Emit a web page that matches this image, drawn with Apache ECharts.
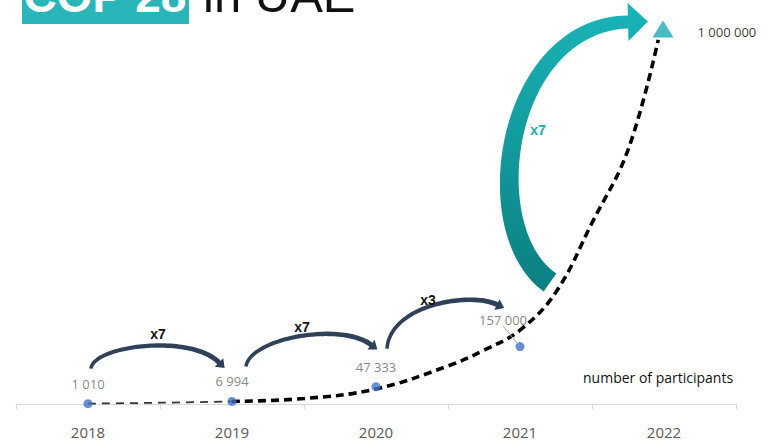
<!DOCTYPE html>
<html><head><meta charset="utf-8">
<script src="https://cdn.jsdelivr.net/npm/echarts@6/dist/echarts.min.js"></script>
<style>html,body{margin:0;padding:0;background:#fff}#c{width:773px;height:440px}</style>
</head><body><div id="c"></div>
<script>
// ---- data ----
const years = ['2018', '2019', '2020', '2021', '2022'];
const participants = [1010, 6994, 47333, 157000];
const target2022 = 1000000;
// dashed growth curve: [position in years from 2018, participants]
const trendEarly = [[0, 1010], [0.5, 3500], [1, 7000]];
const trendLate = [[1, 7000], [1.5, 15000], [2, 41000], [2.5, 104000], [2.75, 147000], [3, 202000],
  [3.25, 306000], [3.5, 495000], [3.75, 694000], [3.96, 995000]];
const growthLabels = ['x7', 'x7', 'x3', 'x7'];
const titleBox = 'COP 28';
const titleRest = 'in UAE';
const seriesNote = 'number of participants';

const fmt = v => String(v).replace(/\B(?=(\d{3})+(?!\d))/g, ' ');

const chart = echarts.init(document.getElementById('c'), null, {renderer: 'svg'});
const option = {
  animation: false,
  backgroundColor: '#fff',
  grid: {left: 16, right: 37, top: 38, bottom: 36},
  xAxis: [{
    type: 'category', data: years, boundaryGap: true,
    axisLine: {lineStyle: {color: '#d9d9d9', width: 1}},
    axisTick: {show: true, length: 5, lineStyle: {color: '#d9d9d9'}},
    axisLabel: {color: '#595959', fontSize: 15, fontFamily: 'Open Sans', margin: 20}
  }, {
    type: 'value', min: -0.5, max: 4.5, show: false, splitLine: {show: false}
  }],
  yAxis: {type: 'value', min: 0, max: 1000000, show: false, splitLine: {show: false}},
  series: [
    {
      type: 'line', xAxisIndex: 1, data: trendEarly, smooth: 0.4, symbol: 'none', z: 2,
      lineStyle: {color: '#333', width: 1.8, type: [8, 6]}
    },
    {
      type: 'line', xAxisIndex: 1, data: trendLate, smooth: 0.4, symbol: 'none', z: 2,
      lineStyle: {color: '#000', width: 3.6, type: [8, 5]}
    },
    {
      type: 'scatter', z: 4, symbolSize: 9,
      itemStyle: {color: '#4472c4'},
      data: participants.map((v, i) => i === 3 ? {value: v, labelLine: {show: true, lineStyle: {color: '#a6a6a6', width: 1}}} : v),
      label: {show: true, position: 'top', distance: 9, color: '#666', fontSize: 13, fontFamily: 'Open Sans',
        formatter: p => fmt(p.value)},
      labelLayout: p => p.dataIndex === 3 ? {dx: -17, dy: -7} : {}
    },
    {
      type: 'scatter', z: 5, symbol: 'triangle', symbolSize: [21, 17], symbolOffset: [-1, -9],
      itemStyle: {color: '#1aabb0'},
      data: [null, null, null, null, target2022],
      label: {show: true, position: 'right', distance: 24, color: '#000', fontSize: 13, fontFamily: 'Open Sans',
        offset: [0, 3], formatter: p => fmt(p.value)}
    }
  ]
};
chart.setOption(option);

// ---- annotations anchored to the data points ----
const px = (i, v) => chart.convertToPixel({xAxisIndex: 0, yAxisIndex: 0}, [years[i], v]);
const pts = participants.map((v, i) => px(i, v)).concat([px(4, target2022)]);

function bez(p, t) {
  const u = 1 - t;
  return [0, 1].map(k => u*u*u*p[0][k] + 3*u*u*t*p[1][k] + 3*u*t*t*p[2][k] + t*t*t*p[3][k]);
}
function bezD(p, t) {
  const u = 1 - t;
  return [0, 1].map(k => 3*u*u*(p[1][k]-p[0][k]) + 6*u*t*(p[2][k]-p[1][k]) + 3*t*t*(p[3][k]-p[2][k]));
}
function arrowPoly(c, w0, w1, hl, hw) {
  const N = 60, L = [], R = [];
  for (let i = 0; i <= N; i++) {
    const t = i / N, q = bez(c, t), d = bezD(c, t), len = Math.hypot(d[0], d[1]);
    const nx = -d[1] / len, ny = d[0] / len, w = (w0 + (w1 - w0) * t) / 2;
    L.push([q[0] + nx * w, q[1] + ny * w]);
    R.push([q[0] - nx * w, q[1] - ny * w]);
  }
  const d = bezD(c, 1), len = Math.hypot(d[0], d[1]);
  const dx = d[0] / len, dy = d[1] / len, nx = -dy, ny = dx, e = c[3];
  const head = [[e[0] + nx * hw, e[1] + ny * hw], [e[0] + dx * hl, e[1] + dy * hl], [e[0] - nx * hw, e[1] - ny * hw]];
  return L.concat(head, R.reverse());
}
const add = (p, o) => [p[0] + o[0], p[1] + o[1]];

const arrowSpecs = [
  {from: 0, to: 1, c: [[3, -35], [5, -58], [-42, -68], [-13, -39]], lab: [70, -70]},
  {from: 1, to: 2, c: [[14, -35], [18, -63], [-36, -65], [-5, -42]], lab: [70, -74]},
  {from: 2, to: 3, c: [[11, -38], [14, -82], [-50, -55], [-23, -42]], lab: [52, -87]},
  {from: 3, to: 4, c: [[30, -64], [-45, -117], [-159, -13], [-36, -16]], lab: [18, -217], big: true}
];

const graphics = [
  {type: 'rect', shape: {x: 22, y: -40, width: 167, height: 64}, style: {fill: '#2ab5b8'}, z: 10},
  {type: 'text', x: 105, y: -4, z: 11, style: {text: titleBox, fill: '#fff', font: 'bold 46px "Liberation Sans"', align: 'center', verticalAlign: 'middle'}},
  {type: 'text', x: 203, y: -5, z: 11, style: {text: titleRest, fill: '#111', font: '49px "Liberation Sans"', align: 'left', verticalAlign: 'middle'}},
  {type: 'text', x: 583, y: 377, z: 11, style: {text: seriesNote, fill: '#111', font: '14px "Open Sans"', align: 'left', verticalAlign: 'middle'}}
];

arrowSpecs.forEach((s, k) => {
  const a = pts[s.from], b = pts[s.to];
  const c = [add(a, s.c[0]), add(a, s.c[1]), add(b, s.c[2]), add(b, s.c[3])];
  const poly = s.big ? arrowPoly(c, 22, 13, 20, 19) : arrowPoly(c, 3.5, 5, 8, 6);
  const fill = s.big
    ? {type: 'linear', x: 0, y: 0, x2: 0, y2: 1, colorStops: [{offset: 0, color: '#1ab4b9'}, {offset: 1, color: '#0b7f80'}]}
    : '#2f4159';
  graphics.push({type: 'polygon', shape: {points: poly}, style: {fill: fill}, z: 6});
  const lp = add(a, s.lab);
  graphics.push({type: 'text', x: lp[0], y: lp[1], z: 7, style: {
    text: growthLabels[k], fill: s.big ? '#1aacb2' : '#111', font: 'bold 14px "Liberation Sans"',
    align: 'center', verticalAlign: 'middle'}});
});

chart.setOption({graphic: graphics});
</script>
</body></html>
